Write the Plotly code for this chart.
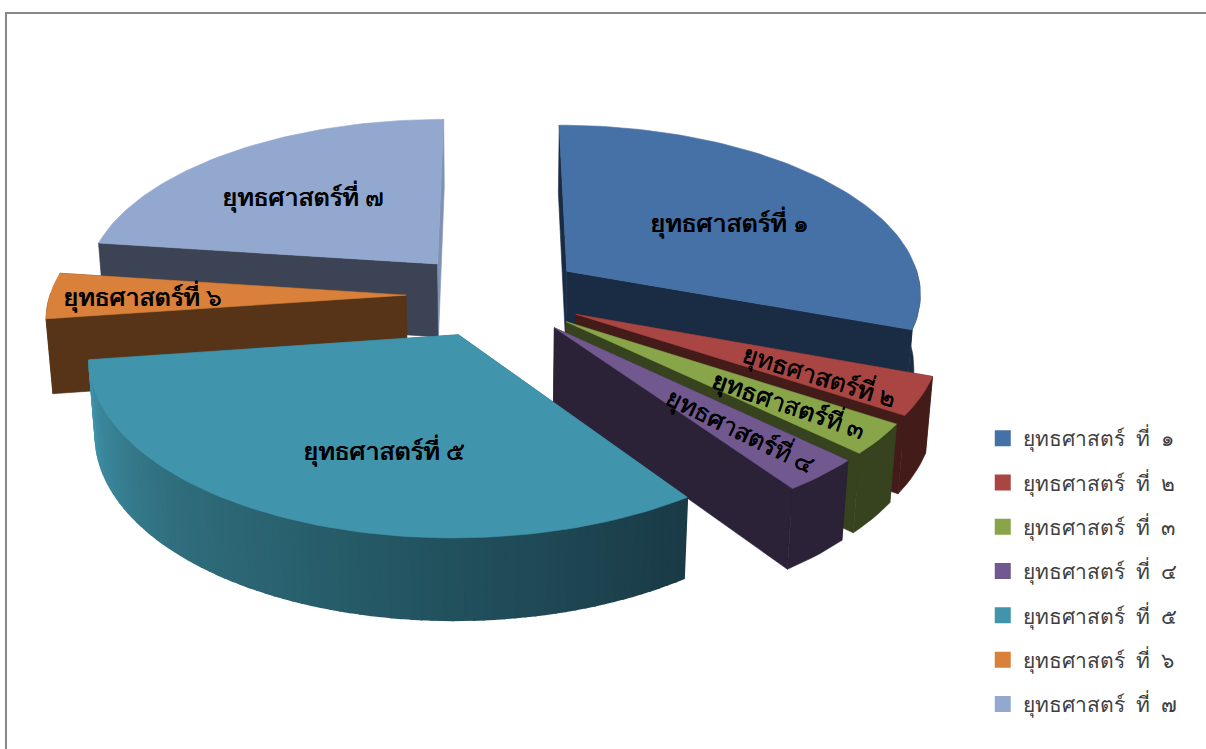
import numpy as np
import plotly.graph_objects as go

# ---- data ----
categories = ["ยุทธศาสตร์\u00a0 ที่\u00a0 ๑", "ยุทธศาสตร์\u00a0 ที่\u00a0 ๒", "ยุทธศาสตร์\u00a0 ที่\u00a0 ๓", "ยุทธศาสตร์\u00a0 ที่\u00a0 ๔",
              "ยุทธศาสตร์\u00a0 ที่\u00a0 ๕", "ยุทธศาสตร์\u00a0 ที่\u00a0 ๖", "ยุทธศาสตร์\u00a0 ที่\u00a0 ๗"]
slice_labels = ["ยุทธศาสตร์ที่ ๑", "ยุทธศาสตร์ที่ ๒", "ยุทธศาสตร์ที่ ๓", "ยุทธศาสตร์ที่ ๔",
                "ยุทธศาสตร์ที่ ๕", "ยุทธศาสตร์ที่ ๖", "ยุทธศาสตร์ที่ ๗"]
values = [30.6, 3.6, 2.9, 3.2, 32.5, 4.3, 22.9]

# ---- styles ----
top_colors = ["#4671a6", "#a94543", "#88a54a", "#71588f", "#4095ad", "#d9813a", "#93a8cf"]
side_colors = ["#1a2c44", "#431c1a", "#37421e", "#2c2238", "#3c8aa0", "#573418", "#3b4355"]
start_wall = ["#1a2c44", "#431c1a", "#37421e", "#2c2238", "#2c6678", "#573418", "#3b4355"]
end_wall = ["#1a2c44", "#431c1a", "#37421e", "#2c2238", "#2c6678", "#573418", "#7f92b4"]
label_xy = [(729, 222), (819, 375), (789, 404), (741, 430), (384, 450), (142, 296), (303, 196)]
label_rot = [0, 17, 19, 26, 0, 0, 0]
draw_order = [6, 0, 5, 1, 2, 3, 4]
band_stops = [(0.0, "#1a3b46"), (0.35, "#245562"), (0.7, "#31707f"), (0.92, "#3c8aa0"), (1.0, "#3f92a9")]
FONT = "Noto Sans, Noto Sans CJK SC, sans-serif"

# ---- projection of a tilted, exploded disc (pixel axes) ----
start_deg, explode, thick = 0.0, 0.25, 0.24
cx, cy, f, sin_t, cos_t, D = 495.0, 295.0, 356.0, 0.474, 0.88, 7.4


def project(x, y, z):
    x, y, z = map(np.asarray, (x, y, z))
    up = y * sin_t + z * cos_t
    depth = y * cos_t - z * sin_t
    s = D / (D + depth)
    return cx + f * x * s, cy - f * up * s


def hex2rgb(h):
    return np.array([int(h[i:i + 2], 16) for i in (1, 3, 5)], float)


def band_color(t):
    for (a, ca), (b, cb) in zip(band_stops, band_stops[1:]):
        if t <= b:
            m = (t - a) / (b - a)
            c = hex2rgb(ca) * (1 - m) + hex2rgb(cb) * m
            return "rgb(%d,%d,%d)" % tuple(c)
    return band_stops[-1][1]


def poly(fig, u, v, color, lw=0.6):
    fig.add_trace(go.Scatter(x=np.r_[u, u[0]], y=np.r_[v, v[0]], mode="lines", fill="toself",
                             fillcolor=color, line=dict(color=color, width=lw),
                             hoverinfo="skip", showlegend=False))


fig = go.Figure()
edges = start_deg + np.r_[0, np.cumsum(values)] / np.sum(values) * 360.0

for i in draw_order:
    a0, a1 = np.radians(edges[i]), np.radians(edges[i + 1])
    mid = (a0 + a1) / 2
    ox, oy = explode * np.sin(mid), explode * np.cos(mid)
    th = np.linspace(a0, a1, max(4, int((a1 - a0) * 40)))
    ax, ay = ox + np.sin(th), oy + np.cos(th)
    # radial walls
    for ang, col in ((a0, start_wall[i]), (a1, end_wall[i])):
        ex, ey = ox + np.sin(ang), oy + np.cos(ang)
        u, v = project([ox, ex, ex, ox], [oy, ey, ey, oy], [0, 0, -thick, -thick])
        poly(fig, u, v, col)
    # outer wall
    if i == 4:
        for k in range(len(th) - 1):
            xs = [ax[k], ax[k + 1], ax[k + 1], ax[k]]
            ys = [ay[k], ay[k + 1], ay[k + 1], ay[k]]
            u, v = project(xs, ys, [0, 0, -thick, -thick])
            poly(fig, u, v, band_color(k / (len(th) - 2)), lw=2)
    else:
        # only the part of the rim facing the viewer is drawn
        front = np.cos(th) < 0.02
        if front.sum() >= 2:
            fx, fy = ax[front], ay[front]
            u, v = project(np.r_[fx, fx[::-1]], np.r_[fy, fy[::-1]],
                           np.r_[np.zeros_like(fx), -thick * np.ones_like(fx)])
            poly(fig, u, v, side_colors[i])
    # top face
    u, v = project(np.r_[ox, ax], np.r_[oy, ay], np.zeros(len(th) + 1))
    poly(fig, u, v, top_colors[i])

# legend entries
for name, col in zip(categories, top_colors):
    fig.add_trace(go.Scatter(x=[None], y=[None], mode="markers", name=name, legendgroup=name,
                             marker=dict(symbol="square", size=16, color=col)))

for txt, (x, y), r in zip(slice_labels, label_xy, label_rot):
    fig.add_annotation(x=x, y=y, text=txt, showarrow=False, textangle=r,
                       font=dict(family=FONT, size=25, color="#000000", shadow="0.5px 0 0 #000"))

fig.update_layout(
    width=1206, height=749, autosize=False,
    margin=dict(l=0, r=0, t=0, b=0), paper_bgcolor="#ffffff", plot_bgcolor="#ffffff",
    xaxis=dict(range=[0, 1206], visible=False, fixedrange=True),
    yaxis=dict(range=[749, 0], visible=False, fixedrange=True),
    showlegend=True,
    legend=dict(x=(1024 + 7) / 1206 - 0.04, y=1 - 418 / 749, xanchor="left", yanchor="top",
                font=dict(family=FONT, size=21, color="#404040"),
                tracegroupgap=14, itemwidth=30, bgcolor="rgba(0,0,0,0)"),
    shapes=[dict(type="path", xref="x", yref="y", path="M 6 749 L 6 13 L 1206 13",
                 line=dict(color="#888888", width=2))],
)
fig.write_html("out.html", config={"displayModeBar": False},
               post_script="document.body.style.margin='0';document.body.style.overflow='hidden';")
